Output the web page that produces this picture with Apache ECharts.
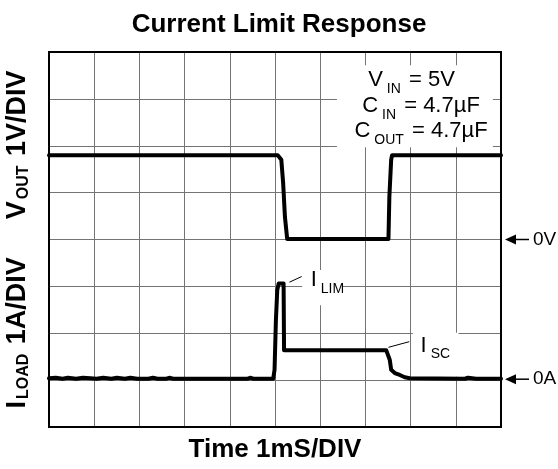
<!DOCTYPE html>
<html><head><meta charset="utf-8">
<script src="https://cdn.jsdelivr.net/npm/echarts@6/dist/echarts.min.js"></script>
<style>html,body{margin:0;padding:0;background:#fff}#c{width:558px;height:469px}</style>
</head><body><div id="c"></div>
<script>
// ---- data (oscilloscope divisions: time 0..10 div, vertical 0..8 div) ----
const titleText = 'Current Limit Response';
const xAxisName = 'Time 1mS/DIV';
const voutTime  = [0, 5.06, 5.14, 5.18, 5.22, 5.27, 7.51, 7.53, 7.57, 7.59, 10];
const voutLevel = [5.80, 5.80, 5.70, 5.21, 4.48, 4.01, 4.01, 4.91, 5.70, 5.80, 5.80];
const iloadTime  = [0, 0.15, 0.3, 0.42, 0.6, 0.75, 0.92, 1.05, 1.2, 1.38, 1.5, 1.68, 1.8, 1.95, 2.2, 2.3, 2.4, 2.6, 2.66, 2.75, 2.85, 4.4, 4.45, 4.52, 4.6, 4.96, 4.99, 5.02, 5.05, 5.08, 5.19, 5.20, 7.46, 7.50, 7.54, 7.57, 7.65, 7.76, 7.87, 7.98, 9.2, 9.27, 9.36, 9.45, 10];
const iloadLevel = [1.04, 1.05, 1.03, 1.05, 1.03, 1.05, 1.04, 1.03, 1.05, 1.03, 1.05, 1.03, 1.05, 1.03, 1.03, 1.05, 1.03, 1.03, 1.05, 1.03, 1.03, 1.03, 1.05, 1.03, 1.03, 1.03, 1.22, 2.28, 2.92, 3.06, 3.06, 1.64, 1.64, 1.61, 1.43, 1.22, 1.15, 1.11, 1.06, 1.04, 1.03, 1.05, 1.04, 1.03, 1.03];
const refLevels = [4.0, 1.02];
const refLabels = ['0V', '0A'];

const FONT = '"Liberation Sans", Arial, sans-serif';
const chart = echarts.init(document.getElementById('c'));

const zip = (a, b) => a.map((v, i) => [v, b[i]]);
const gridLine = {show: true, lineStyle: {color: '#747474', width: 1}};

chart.setOption({
  animation: false,
  backgroundColor: '#fff',
  title: {text: titleText, left: 'center', top: 7,
    textStyle: {fontFamily: FONT, fontSize: 26, fontWeight: 'bold', color: '#000'}},
  grid: {left: 49, top: 52, width: 452, height: 375, outerBoundsMode: 'none', containLabel: false},
  xAxis: {type: 'value', min: 0, max: 10, interval: 1,
    axisLine: {show: false}, axisTick: {show: false}, axisLabel: {show: false},
    splitLine: gridLine,
    name: xAxisName, nameLocation: 'middle', nameGap: 10,
    nameTextStyle: {fontFamily: FONT, fontSize: 26, fontWeight: 'bold', color: '#000'}},
  yAxis: {type: 'value', min: 0, max: 8, interval: 1,
    axisLine: {show: false}, axisTick: {show: false}, axisLabel: {show: false},
    splitLine: gridLine,
    name: '{m|I}{s|LOAD}{m| 1A/DIV}{g|}{m|V}{s|OUT}{m| 1V/DIV}',
    nameLocation: 'middle', nameRotate: 90, nameGap: 17,
    nameTextStyle: {fontFamily: FONT, fontSize: 27, fontWeight: 'bold', color: '#000',
      rich: {
        m: {fontFamily: FONT, fontSize: 27, fontWeight: 'bold', color: '#000'},
        s: {fontFamily: FONT, fontSize: 16, fontWeight: 'bold', color: '#000', padding: [12, 2, 0, 2]},
        g: {width: 38}
      }}},
  series: [
    {type: 'line', data: zip(voutTime, voutLevel), showSymbol: false, z: 4,
     lineStyle: {color: '#000', width: 4, join: 'round', cap: 'round'}},
    {type: 'line', data: zip(iloadTime, iloadLevel), showSymbol: false, z: 4,
     lineStyle: {color: '#000', width: 4, join: 'round', cap: 'round'}}
  ]
});

const P = (x, y) => chart.convertToPixel({gridIndex: 0}, [x, y]);
const mainStyle = {fontFamily: FONT, fontSize: 22, fill: '#000', color: '#000'};
const subStyle = {fontFamily: FONT, fontSize: 14, fill: '#000', color: '#000', padding: [18, 2, 0, 4]};

function richText(pt, str, align) {
  return {type: 'text', z: 3, style: {
    x: pt[0], y: pt[1], text: str,
    align: align, textAlign: align, verticalAlign: 'middle', textVerticalAlign: 'middle',
    fontFamily: FONT, fontSize: 22, fill: '#000',
    rich: {m: mainStyle, s: subStyle}
  }};
}
function whiteBox(a, b) {
  const p1 = P(a[0], a[1]), p2 = P(b[0], b[1]);
  return {type: 'rect', z: 1, shape: {x: p1[0], y: p1[1], width: p2[0] - p1[0], height: p2[1] - p1[1]},
    style: {fill: '#fff'}, silent: true};
}
function seg(a, b, w) {
  const p1 = P(a[0], a[1]), p2 = P(b[0], b[1]);
  return {type: 'line', z: 3, shape: {x1: p1[0], y1: p1[1], x2: p2[0], y2: p2[1]},
    style: {stroke: '#000', lineWidth: w}};
}

const tl = P(0, 8), br = P(10, 0);
const elements = [
  whiteBox([6.37, 7.72], [9.82, 5.97]),
  whiteBox([5.60, 3.35], [6.50, 2.60]),
  whiteBox([8.05, 2.01], [9.06, 1.07]),
  richText(P(8.02, 7.40), '{m|V}{s|IN}{m| = 5V}', 'center'),
  richText(P(8.23, 6.84), '{m|C}{s|IN}{m| = 4.7µF}', 'center'),
  richText(P(8.23, 6.32), '{m|C}{s|OUT}{m| = 4.7µF}', 'center'),
  seg([5.32, 3.09], [5.59, 3.21], 1),
  richText(P(5.79, 3.14), '{m|I}{s|LIM}', 'left'),
  seg([7.51, 1.70], [7.97, 1.82], 1),
  richText(P(8.22, 1.74), '{m|I}{s|SC}', 'left'),
  {type: 'rect', z: 5, shape: {x: tl[0], y: tl[1], width: br[0] - tl[0], height: br[1] - tl[1]},
   style: {fill: 'none', stroke: '#000', lineWidth: 2}, silent: true}
];
refLevels.forEach((lv, i) => {
  const p = P(10, lv);
  const x0 = p[0] + 4, y0 = p[1];
  elements.push({type: 'polygon', z: 3, shape: {points: [[x0, y0], [x0 + 11, y0 - 5], [x0 + 11, y0 + 5]]},
    style: {fill: '#000'}});
  elements.push({type: 'line', z: 3, shape: {x1: x0 + 10, y1: y0, x2: x0 + 24, y2: y0},
    style: {stroke: '#000', lineWidth: 1.5}});
  elements.push({type: 'text', z: 3, style: {x: x0 + 28, y: y0, text: refLabels[i],
    align: 'left', textAlign: 'left', verticalAlign: 'middle', textVerticalAlign: 'middle',
    fontFamily: FONT, fontSize: 19, fill: '#000'}});
});
chart.setOption({graphic: {elements: elements}});
</script>
</body></html>
